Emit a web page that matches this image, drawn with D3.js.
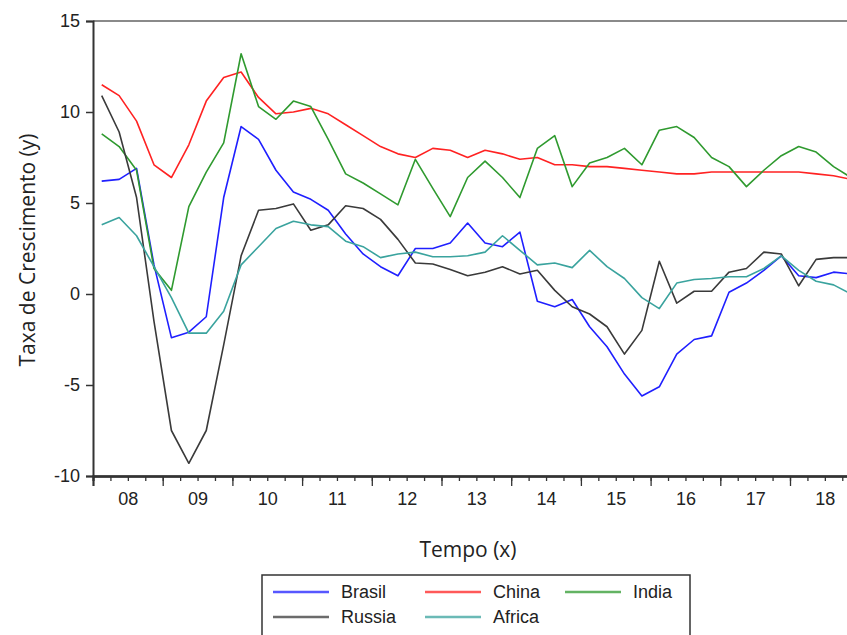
<!DOCTYPE html>
<html>
<head>
<meta charset="utf-8">
<script src="https://cdn.jsdelivr.net/npm/d3@7"></script>
<style>
  body { margin: 0; background: #fff; }
  svg { display: block; }
</style>
</head>
<body>
<svg class="line-chart"></svg>
<script>
// quarterly growth, 2008Q1 .. 2018Q4
var startYear = 2008;
var yearLabels = ["08", "09", "10", "11", "12", "13", "14", "15", "16", "17", "18"];
var yTicks = [-10, -5, 0, 5, 10, 15];

var brasil = [6.2, 6.3, 6.9, 1.6, -2.4, -2.1, -1.25, 5.3, 9.2, 8.5, 6.8, 5.6, 5.2, 4.6, 3.3, 2.2, 1.5, 1.0, 2.5, 2.5, 2.8, 3.9, 2.8, 2.6, 3.4, -0.4, -0.7, -0.3, -1.8, -2.9, -4.4, -5.6, -5.1, -3.3, -2.5, -2.3, 0.1, 0.6, 1.3, 2.1, 1.0, 0.9, 1.2, 1.1];
var china = [11.5, 10.9, 9.5, 7.1, 6.4, 8.2, 10.6, 11.9, 12.2, 10.8, 9.9, 10.0, 10.2, 9.9, 9.3, 8.7, 8.1, 7.7, 7.5, 8.0, 7.9, 7.5, 7.9, 7.7, 7.4, 7.5, 7.1, 7.1, 7.0, 7.0, 6.9, 6.8, 6.7, 6.6, 6.6, 6.7, 6.7, 6.7, 6.7, 6.7, 6.7, 6.6, 6.5, 6.3];
var india = [8.8, 8.1, 6.8, 1.4, 0.2, 4.8, 6.7, 8.3, 13.2, 10.3, 9.6, 10.6, 10.3, 8.5, 6.6, 6.1, 5.5, 4.9, 7.4, 5.8, 4.25, 6.4, 7.3, 6.4, 5.3, 8.0, 8.7, 5.9, 7.2, 7.5, 8.0, 7.1, 9.0, 9.2, 8.6, 7.5, 7.0, 5.9, 6.8, 7.6, 8.1, 7.8, 7.0, 6.4];
var russia = [10.9, 8.9, 5.3, -1.5, -7.5, -9.3, -7.5, -2.8, 2.1, 4.6, 4.7, 4.95, 3.5, 3.8, 4.85, 4.7, 4.1, 3.0, 1.7, 1.65, 1.35, 1.0, 1.2, 1.5, 1.1, 1.3, 0.2, -0.7, -1.1, -1.8, -3.3, -2.0, 1.8, -0.5, 0.15, 0.15, 1.2, 1.4, 2.3, 2.2, 0.45, 1.9, 2.0, 2.0];
var africa = [3.8, 4.2, 3.2, 1.5, -0.2, -2.15, -2.15, -0.95, 1.6, 2.6, 3.6, 4.0, 3.8, 3.7, 2.9, 2.6, 2.0, 2.2, 2.3, 2.05, 2.05, 2.1, 2.3, 3.2, 2.4, 1.6, 1.7, 1.45, 2.4, 1.5, 0.85, -0.2, -0.8, 0.6, 0.8, 0.85, 0.95, 0.95, 1.4, 2.1, 1.3, 0.7, 0.5, 0.0];

var seriesNames = ["Brasil", "China", "India", "Russia", "Africa"];
var seriesColors = ["#1f1fff", "#ff2222", "#2f9a2f", "#3a3a3a", "#3aa39e"];
var seriesValues = [brasil, china, india, russia, africa];

var svgWidth = 847, svgHeight = 635;

var svg = d3.select('svg.line-chart')
    .attr("width", svgWidth)
    .attr("height", svgHeight)
    .style('background-color', 'white');

// plot frame (note: "top" is taken by window.top, so plotTop)
var plotLeft = 93, plotTop = 21, plotBottom = 476, yearPx = 69.7;

var xScale = d3.scaleLinear()
    .domain([startYear, startYear + 11])
    .range([plotLeft, plotLeft + 11 * yearPx]);
var yScale = d3.scaleLinear().domain([-10, 15]).range([plotBottom, plotTop]);

var font = "'Liberation Sans', Arial, sans-serif";

// top border
svg.append("line")
    .attr("x1", plotLeft).attr("x2", svgWidth)
    .attr("y1", plotTop).attr("y2", plotTop)
    .style("stroke", "#8a8a8a")
    .style("stroke-width", 2);

// lines
svg.append("clipPath").attr("id", "plot")
    .append("rect")
    .attr("x", plotLeft).attr("y", plotTop)
    .attr("width", svgWidth - plotLeft).attr("height", plotBottom - plotTop);

var line = d3.line()
    .x(function (d, i) { return xScale(startYear + (i + 0.5) / 4); })
    .y(function (d) { return yScale(d); });

svg.append("g")
    .attr("clip-path", "url(#plot)")
    .selectAll("path")
    .data(seriesValues)
    .enter()
    .append("path")
    .attr("d", line)
    .style("fill", "none")
    .style("stroke", function (d, i) { return seriesColors[i]; })
    .style("stroke-width", 1.6)
    .style("stroke-linejoin", "round");

// x axis: quarter ticks, year ticks, then labels in the middle of each year
var quarterTicks = d3.range(0, 11 * 4 + 1).map(function (q) { return startYear + q / 4; });
var yearTicks = d3.range(0, 12).map(function (k) { return startYear + k; });
var yearMids = yearLabels.map(function (d, k) { return startYear + k + 0.5; });

var gx = svg.append("g")
    .attr("transform", "translate(0," + plotBottom + ")");

gx.append("g")
    .call(d3.axisBottom(xScale).tickValues(quarterTicks).tickSize(5).tickFormat(""));
gx.append("g")
    .call(d3.axisBottom(xScale).tickValues(yearTicks).tickSize(10).tickFormat(""));
gx.append("g")
    .call(d3.axisBottom(xScale).tickValues(yearMids).tickSize(0).tickPadding(16)
        .tickFormat(function (d, k) { return yearLabels[k]; }));

gx.selectAll("path.domain").style("stroke", "#333").style("stroke-width", 2);
gx.selectAll(".tick line").style("stroke", "#333").style("stroke-width", 1.3);
gx.selectAll(".tick text")
    .style("font-family", font)
    .style("font-size", "18px")
    .style("fill", "#222");

// y axis (plain hyphen for negatives, like the original)
var gy = svg.append("g")
    .attr("transform", "translate(" + plotLeft + ",0)")
    .call(d3.axisLeft(yScale).tickValues(yTicks).tickSize(7).tickPadding(6)
        .tickFormat(function (d) { return String(d); }));

gy.select("path.domain").style("stroke", "#333").style("stroke-width", 2);
gy.selectAll(".tick line").style("stroke", "#333").style("stroke-width", 1.5);
gy.selectAll(".tick text")
    .style("font-family", font)
    .style("font-size", "18px")
    .style("fill", "#222");

// axis titles
svg.append('text')
    .attr('x', 468)
    .attr('y', 557)
    .attr('text-anchor', 'middle')
    .style('font-family', "'Open Sans', 'Noto Sans', sans-serif")
    .style('font-size', "21px")
    .style('fill', '#222')
    .text('Tempo (x)');

svg.append('text')
    .attr('text-anchor', 'middle')
    .attr('transform', 'translate(35,250)rotate(-90)')
    .style('font-family', "'Open Sans', 'Noto Sans', sans-serif")
    .style('font-size', "21px")
    .style('fill', '#222')
    .text('Taxa de Crescimento (y)');

// legend
svg.append("rect")
    .attr("x", 262).attr("y", 575)
    .attr("width", 428).attr("height", 80)
    .style("fill", "white")
    .style("stroke", "#333")
    .style("stroke-width", 1.5);

var legendCols = [273, 425, 565], legendRows = [592, 617];

var item = svg.selectAll("g.legend-item")
    .data(seriesNames)
    .enter()
    .append("g")
    .attr("class", "legend-item")
    .attr("transform", function (d, i) {
        return "translate(" + legendCols[i % 3] + "," + legendRows[Math.floor(i / 3)] + ")";
    });

item.append("line")
    .attr("x1", 0).attr("x2", 56)
    .style("stroke", function (d, i) { return seriesColors[i]; })
    .style("stroke-width", 2.5)
    .style("opacity", 0.75);

item.append("text")
    .attr("x", 68)
    .attr("y", 6)
    .style("font-family", font)
    .style("font-size", "18px")
    .style("fill", "#222")
    .text(function (d) { return d; });
</script>
</body>
</html>
